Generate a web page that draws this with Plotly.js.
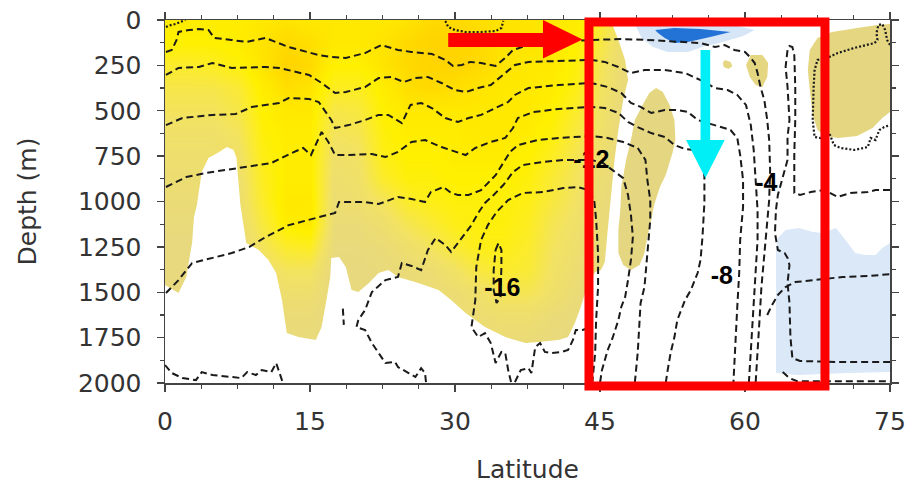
<!DOCTYPE html>
<html><head><meta charset="utf-8">
<script src="https://cdn.plot.ly/plotly-3.0.1.min.js"></script>
<style>html,body{margin:0;padding:0;background:#fff}#chart{width:907px;height:484px}</style>
</head><body><div id="chart"></div><script>
// ---------- shading field (khaki -> yellow -> orange-yellow) ----------
const shadeLat = [0,2.5,5,7.5,10,12.5,15,17.5,20,22.5,25,27.5,30,32.5,35,37.5,40,42.5,45,47.5];
const shadeDepth = [0,125,250,375,500,625,750,875,1000,1125,1250,1375,1500,1625,1750,1875,2000];
const shadeZ = [
 [0.95,0.95,0.95,0.95,1.0,1.05,1.0,1.0,1.0,1.0,1.05,1.15,1.15,1.1,1.05,1.05,1.0,0.95,0.7,0.3],
 [0.9,0.9,0.9,0.95,1.05,1.15,1.1,1.0,1.0,1.05,1.15,1.2,1.2,1.15,1.05,1.05,1.0,0.9,0.6,0.2],
 [0.7,0.7,0.75,0.85,1.05,1.2,1.15,0.9,0.9,1.05,1.15,1.2,1.2,1.15,1.05,1.0,1.0,0.85,0.5,0.2],
 [0.55,0.55,0.55,0.65,0.95,1.1,1.05,0.75,0.75,0.95,1.1,1.15,1.1,1.05,1.0,1.0,0.95,0.8,0.45,0.15],
 [0.45,0.45,0.45,0.55,0.9,1.0,1.0,0.55,0.6,0.9,1.0,1.0,1.0,1.0,1.0,1.0,0.9,0.7,0.4,0.1],
 [0.35,0.35,0.35,0.45,0.85,0.95,0.95,0.45,0.5,0.85,0.95,0.95,0.95,1.0,1.0,0.95,0.85,0.6,0.35,0.1],
 [0.3,0.3,0.3,0.35,0.8,0.95,0.95,0.35,0.4,0.8,0.9,0.9,0.95,0.95,0.95,0.9,0.75,0.5,0.3,0.1],
 [0.25,0.25,0.25,0.3,0.75,0.95,0.95,0.3,0.35,0.7,0.85,0.85,0.9,0.9,0.9,0.85,0.65,0.45,0.25,0.1],
 [0.2,0.2,0.2,0.25,0.7,1.0,1.0,0.25,0.3,0.45,0.7,0.8,0.85,0.85,0.85,0.8,0.6,0.4,0.2,0.1],
 [0.15,0.15,0.15,0.2,0.6,0.95,1.0,0.2,0.2,0.3,0.5,0.65,0.8,0.85,0.85,0.75,0.5,0.35,0.2,0.1],
 [0.1,0.1,0.1,0.15,0.45,0.7,0.75,0.15,0.15,0.2,0.3,0.45,0.65,0.8,0.8,0.7,0.45,0.3,0.15,0.1],
 [0.1,0.1,0.1,0.1,0.3,0.45,0.45,0.1,0.1,0.15,0.2,0.25,0.4,0.6,0.7,0.65,0.4,0.25,0.15,0.1],
 [0.1,0.1,0.1,0.1,0.2,0.3,0.3,0.1,0.1,0.1,0.15,0.2,0.25,0.35,0.5,0.5,0.35,0.2,0.1,0.1],
 [0.1,0.1,0.1,0.1,0.15,0.2,0.2,0.1,0.1,0.1,0.1,0.15,0.2,0.25,0.3,0.3,0.2,0.15,0.1,0.1],
 [0.1,0.1,0.1,0.1,0.1,0.15,0.15,0.1,0.1,0.1,0.1,0.1,0.15,0.2,0.2,0.2,0.15,0.1,0.1,0.1],
 [0.1,0.1,0.1,0.1,0.1,0.1,0.1,0.1,0.1,0.1,0.1,0.1,0.1,0.1,0.1,0.1,0.1,0.1,0.1,0.1],
 [0.1,0.1,0.1,0.1,0.1,0.1,0.1,0.1,0.1,0.1,0.1,0.1,0.1,0.1,0.1,0.1,0.1,0.1,0.1,0.1]
];

// ---------- region outlines (lat, depth) ----------
const whiteLat = [0,1.4,2.2,2.8,3.0,3.3,3.8,4.5,5.6,6.4,7.1,7.4,7.6,7.8,8.2,8.4,9.7,10.7,11.5,12.1,12.6,13.8,15.6,16.2,16.7,17.1,17.2,18.0,18.7,19.3,20.0,21.1,22.1,23.1,24.1,26.2,28.3,29.6,31.1,33.1,35.2,37.3,38.6,40.7,41.7,42.4,42.9,43.4,44.0,44.5,45.1,45.5,45.8,46.1,46.5,46.9,47.4,47.9,47.6,46.9,46.1,75,75,0];
const whiteDep = [1460,1504,1416,1229,1085,1019,838,760,727,700,716,760,893,1019,1157,1229,1267,1322,1394,1543,1725,1747,1763,1692,1543,1416,1311,1306,1361,1488,1499,1449,1394,1378,1416,1449,1488,1543,1614,1692,1747,1780,1774,1763,1747,1670,1598,1515,1433,1389,1378,1333,1157,992,771,606,441,331,220,110,0,0,2000,2000];
const tongueLat = [50.8,51.5,52.2,52.7,52.8,52.5,51.8,51.2,50.6,50.3,49.9,49.6,49.1,48.2,47.4,46.9,46.9,47.1,47.2,47.7,48.2,48.6,49.4,50.1];
const tongueDep = [375,397,468,551,661,733,854,920,1019,1102,1196,1284,1350,1378,1350,1284,1157,1047,920,771,661,551,468,402];
const blobALat = [57.9,58.5,58.7,58.3,57.8,57.7];
const blobADep = [220,231,253,270,259,237];
const blobBLat = [60.6,61.8,62.4,62.3,61.8,61.1,60.5,60.1];
const blobBDep = [193,193,237,314,369,358,314,248];
const patchLat = [66.7,67.5,69.0,71.6,73.7,75.0,75.0,74.2,73.2,71.6,69.6,68.3,67.5,67.0,66.7,66.5];
const patchDep = [165,99,66,44,28,22,507,540,595,639,650,639,606,523,386,276];
const haloLat = [48.6,51.0,55.1,59.2,61.0,59.8,57.7,55.6,54.1,52.0,50.5,49.3];
const haloDep = [22,11,22,33,55,88,121,149,176,176,149,99];
const coreLat = [50.7,52.7,55.4,58.5,56.4,54.1,52.7,51.7,51.0];
const coreDep = [55,44,50,66,94,121,127,99,72];
const deepBlueLat = [63.2,63.4,64.2,65.6,67.0,68.0,69.4,70.4,71.4,72.4,73.5,74.2,75.0,75.0,70.6,65.4,63.2];
const deepBlueDep = [1267,1201,1157,1146,1168,1174,1146,1212,1284,1295,1295,1256,1229,1940,1945,1956,1945];

// ---------- streamfunction contour lines (lat, depth) ----------
const c1Lat = [0.1,0.7,1.2,1.4,2.5,3.5,4.5,5.1,6.9,8.4,10.4,11.5,12.8,15.9,17.2,18.7,20.7,22.4,24.1,25.5,27.6,29.0,29.8,30.7,31.6,32.7,34.2,35.2,36.0,37.6,40.7,44.1,47.2,49.9,53.4,55.4,56.9,57.9,58.9,60.0,60.6,61.0,61.3,61.6,62.0,62.3,62.5,62.6,62.5,62.3,62.0,61.7,61.5,61.3,61.1];
const c1Dep = [176,165,110,66,55,50,55,99,110,121,99,121,149,193,204,209,182,138,165,176,187,220,253,248,231,237,253,209,165,138,121,110,105,110,121,127,149,138,165,176,209,237,292,369,441,551,661,827,992,1102,1284,1471,1653,1835,2000];
const c2Lat = [0.1,1.4,3.5,4.9,6.9,10.4,11.8,14.9,16.2,17.6,18.7,20.7,22.1,23.4,24.7,25.9,27.2,28.6,30.0,31.1,32.4,33.7,35.2,36.2,37.6,40.7,44.1,45.5,46.9,48.2,49.6,51.7,53.8,55.4,56.9,58.2,59.2,60.1,60.6,60.9,61.1,61.3,61.3,61.1,60.9,60.7,60.5,60.4];
const c2Dep = [303,264,259,237,264,259,264,303,347,402,397,369,320,314,342,320,314,347,386,397,375,358,292,248,231,226,220,231,259,292,276,276,292,331,375,386,413,468,579,716,882,1047,1212,1377,1543,1708,1873,2000];
const c3Lat = [0.1,1.8,4.9,7.3,9.0,11.8,12.8,14.9,15.9,17.2,17.6,19.0,20.7,22.1,23.1,24.5,25.4,26.5,27.6,29.0,30.3,31.4,32.7,34.2,35.5,36.2,37.6,40.7,44.1,45.8,47.2,48.2,49.2,50.3,51.7,53.0,54.1,55.1,56.1,57.4,58.5,59.2,59.5,59.8,59.8,59.5,59.4,59.2,59.0,58.9,58.8];
const c3Dep = [579,540,523,518,479,457,430,435,452,551,595,579,551,523,523,568,468,457,485,540,562,540,523,485,452,413,375,358,347,369,402,457,479,512,496,496,507,551,568,590,606,650,744,882,1030,1212,1394,1581,1763,1912,2000];
const c4Lat = [0.1,2.2,4.2,7.6,11.0,13.1,14.3,15.1,16.2,16.9,17.6,19.0,21.4,22.8,24.1,25.5,26.9,28.6,30.0,31.1,32.1,33.7,35.2,36.0,36.5,38.1,40.7,44.1,45.5,46.9,47.9,48.9,50.3,51.7,52.7,53.8,54.8,55.6,55.8,55.8,55.6,55.4,55.1,54.4,53.8,53.4,53.0,52.7,52.3,52.0,51.8];
const c4Dep = [920,865,843,815,788,733,705,744,617,672,744,744,738,755,727,672,661,700,727,744,705,672,650,595,540,507,490,479,485,512,562,590,623,645,689,711,716,771,865,1008,1196,1322,1394,1488,1543,1598,1653,1747,1835,1929,2000];
const c5Lat = [0.1,1.4,2.8,6.9,8.7,10.4,12.8,15.6,17.6,18.0,20.7,22.1,24.1,25.5,26.9,27.5,28.8,29.6,30.3,31.4,32.7,34.2,35.0,35.7,36.5,38.6,40.7,44.1,45.8,47.4,48.9,49.7,49.9,50.2,50.2,49.9,49.6,49.2,49.1,48.9,48.6];
const c5Dep = [1504,1433,1339,1284,1251,1196,1130,1091,1063,1003,1003,1014,975,986,1003,948,920,953,964,964,937,855,788,727,689,661,650,639,650,672,705,771,882,992,1102,1284,1471,1559,1653,1835,2000];
const c6Lat = [27.0,26.9,26.5,25.9,25.2,24.1,23.8,22.8,21.4,20.7,19.8,20.0,20.7,21.4,22.8,24.1,24.5,25.5,26.5,27.2,28.0,29.0,29.6,30.3,31.1,31.7,32.4,33.1,34.0,35.0,36.0,37.0,39.1,41.2,44.1,45.3,46.3,47.4,47.9,48.2,48.4,48.2,47.9,47.6,47.2,46.9,46.3,45.8,45.5,45.2,45.0];
const c6Dep = [1995,1945,1918,1967,1945,1912,1884,1890,1780,1708,1692,1653,1598,1499,1433,1416,1339,1355,1378,1267,1201,1240,1278,1229,1174,1130,1063,1008,964,909,838,799,782,771,771,788,827,871,964,1074,1196,1322,1433,1526,1581,1653,1752,1818,1873,1929,2000];
const c7Lat = [35.8,35.5,35.2,34.8,34.2,33.7,33.1,32.4,31.7,32.1,32.2,32.7,33.4,34.3,35.5,37.0,39.1,41.2,42.7,43.8,44.4,44.6,44.8,44.8,44.6,44.5,44.3,44.2];
const c7Dep = [1995,1929,1835,1829,1890,1780,1725,1747,1692,1543,1361,1212,1130,1058,992,953,948,926,920,937,992,1102,1284,1471,1653,1835,1945,2000];
const c8Lat = [34.2,34.5,34.8,34.8,34.7,34.3,34.0,34.0,34.2];
const c8Dep = [1267,1229,1267,1361,1526,1559,1488,1378,1267];
const c9Lat = [0.0,0.7,1.8,3.2,3.8,4.9,6.9,7.9,8.5,9.4,10.0,11.0,11.5,12.1,12.2];
const c9Dep = [1901,1945,1973,1984,1940,1956,1967,1973,1940,1956,1929,1940,1890,1984,2000];
const c10Lat = [18.4,18.5];
const c10Dep = [1590,1680];
const c11Lat = [36.2,36.8,37.6,37.9,38.3,38.8,39.3,39.9,41.0,41.7,42.2,42.5,43.2,43.8];
const c11Dep = [1995,1929,1918,1945,1802,1780,1829,1835,1829,1818,1763,1708,1708,1697];
const c12Lat = [75.0,73.5,72.7,70.9,69.6,68.2,66.8,65.7,65.1,65.1,65.2,65.2,65.1,64.9,64.6,64.4,64.2,64.4,64.6,64.4,64.4,63.9,63.4,63.2,63.1,63.4,64.1,64.4,64.6,64.4,64.6,64.7,64.9,65.7,69.6,75.0];
const c12Dep = [937,937,948,953,975,937,948,964,953,733,551,369,193,149,143,165,259,369,551,645,771,865,964,1047,1174,1267,1284,1311,1350,1449,1559,1747,1862,1879,1884,1884];
const c13Lat = [62.3,62.8,63.4,64.2,65.2,67.8,70.1,72.7,75.0];
const c13Dep = [1625,1570,1515,1471,1444,1427,1416,1411,1400];
const c14Lat = [63.9,64.6,65.4,75.0];
const c14Dep = [1940,1973,1990,1990];
// zero contour (dotted)
const z1Lat = [0.1,0.6,1.1,1.7,2.1];
const z1Dep = [39,28,22,11,0];
const z2Lat = [29.0,29.3,30.0,31.1,32.7,34.2,34.8,35.0];
const z2Dep = [5,39,55,66,66,61,44,5];
const z3Lat = [75.0,74.7,74.5,74.2,73.8,73.6,73.7,73.4,71.3,69.6,68.5,67.5,67.2,67.1,67.0,67.2,67.8,68.5,68.8,69.2,69.9,71.3,72.7,73.0,73.5,73.9,74.4,75.0];
const z3Dep = [138,110,55,22,28,72,110,127,154,182,209,220,276,369,551,645,650,623,634,689,705,716,700,650,661,606,590,579];

// ---------- contour labels ----------
const labelText = ['-16','-12','-8','-4'];
const labelLat = [34.9,44.1,57.6,62.2];
const labelDep = [1485,782,1419,909];

const KHAKI = 'rgb(229,214,130)';
const traces = [];
traces.push({type:'heatmap', x:shadeLat, y:shadeDepth, z:shadeZ, zsmooth:'best', zmin:0, zmax:1.2,
  showscale:false, hoverinfo:'skip',
  colorscale:[[0,KHAKI],[0.1,'rgb(232,217,126)'],[0.35,'rgb(242,226,98)'],[0.6,'rgb(252,236,40)'],[0.75,'rgb(255,240,0)'],[0.85,'rgb(255,231,0)'],[1,'rgb(255,212,0)']]});
function poly(x,y,color){ traces.push({type:'scatter', x:x, y:y, mode:'none', fill:'toself', fillcolor:color, hoverinfo:'skip', showlegend:false}); }
poly(whiteLat, whiteDep, '#ffffff');
poly(tongueLat, tongueDep, KHAKI);
poly(blobALat, blobADep, KHAKI);
poly(blobBLat, blobBDep, KHAKI);
poly(patchLat, patchDep, KHAKI);
poly(haloLat, haloDep, 'rgb(214,230,247)');
poly(coreLat, coreDep, 'rgb(35,115,215)');
poly(deepBlueLat, deepBlueDep, 'rgb(218,232,248)');
function line(x,y,dash){ traces.push({type:'scatter', x:x, y:y, mode:'lines', hoverinfo:'skip', showlegend:false,
  line:{color:'#1a1a1a', width: dash==='dot'?2.2:2, dash: dash==='dot'?'2px,2px':'7px,4px'}}); }
[[c1Lat,c1Dep],[c2Lat,c2Dep],[c3Lat,c3Dep],[c4Lat,c4Dep],[c5Lat,c5Dep],[c6Lat,c6Dep],[c7Lat,c7Dep],[c8Lat,c8Dep],
 [c9Lat,c9Dep],[c10Lat,c10Dep],[c11Lat,c11Dep],[c12Lat,c12Dep],[c13Lat,c13Dep],[c14Lat,c14Dep]].forEach(p=>line(p[0],p[1],'dash'));
[[z1Lat,z1Dep],[z2Lat,z2Dep],[z3Lat,z3Dep]].forEach(p=>line(p[0],p[1],'dot'));
traces.push({type:'scatter', x:labelLat, y:labelDep, text:labelText, mode:'text', hoverinfo:'skip', showlegend:false,
  textfont:{family:'Liberation Sans, Arial, sans-serif', size:25, color:'#000', weight:'bold'}});

const axisFont = {family:'DejaVu Sans, sans-serif', size:25, color:'#333'};
const common = {showgrid:false, zeroline:false, showline:true, linecolor:'#444', linewidth:1.5, mirror:'ticks',
  ticks:'outside', ticklen:7, tickwidth:1.3, tickcolor:'#444', tickfont:axisFont, ticklabeloverflow:'allow', layer:'above traces'};
const layout = {
  width:907, height:484, margin:{l:165, r:17, t:20, b:101},
  paper_bgcolor:'#fff', plot_bgcolor:'#fff', showlegend:false, hovermode:false,
  xaxis: Object.assign({}, common, {range:[0,75], tick0:0, dtick:15, ticklabelstandoff:8,
    minor:{dtick:3.75, ticks:'outside', ticklen:4, tickcolor:'#444', showgrid:false},
    title:{text:'Latitude', font:axisFont, standoff:27}}),
  yaxis: Object.assign({}, common, {range:[2000,0], tick0:0, dtick:250, ticklabelstandoff:10,
    minor:{dtick:125, ticks:'outside', ticklen:4, tickcolor:'#444', showgrid:false},
    title:{text:'Depth (m)', font:axisFont, standoff:34}}),
  shapes:[
    {type:'rect', xref:'paper', yref:'paper', x0:0.5848, x1:0.9103, y0:-0.0083, y1:0.9945,
     line:{color:'#ff0000', width:9}, fillcolor:'rgba(0,0,0,0)', layer:'above'},
    {type:'path', xref:'x', yref:'y', layer:'above', fillcolor:'#ff0000', line:{width:0},
     path:'M29.3,72 L39.1,72 L39.1,0 L43.2,108 L39.1,212 L39.1,149 L29.3,149 Z'},
    {type:'path', xref:'x', yref:'y', layer:'above', fillcolor:'#00eef6', line:{width:0},
     path:'M55.4,165 L56.4,165 L56.4,661 L57.9,661 L55.9,871 L53.9,661 L55.4,661 Z'}
  ]
};
Plotly.newPlot('chart', traces, layout, {displayModeBar:false, staticPlot:true});
</script></body></html>
